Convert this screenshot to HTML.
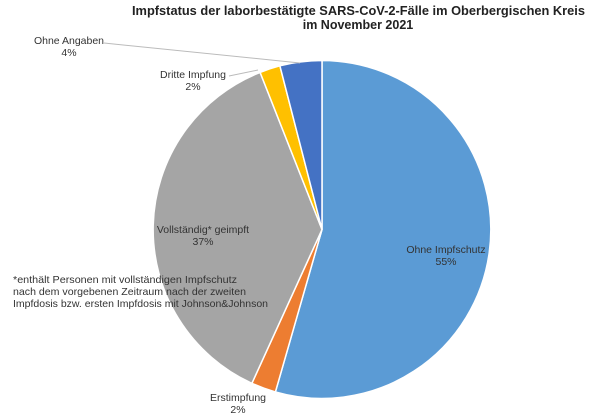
<!DOCTYPE html>
<html><head><meta charset="utf-8"><style>
html,body{margin:0;padding:0;background:#fff;}
svg{display:block;font-family:"Liberation Sans",sans-serif;}
</style></head><body>
<svg width="600" height="420" viewBox="0 0 600 420">
<text x="132" y="15" font-size="12.5" font-weight="bold" fill="#222" textLength="453" lengthAdjust="spacingAndGlyphs">Impfstatus der laborbestätigte SARS-CoV-2-Fälle im Oberbergischen Kreis</text>
<text x="358" y="29" text-anchor="middle" font-size="12.5" font-weight="bold" fill="#222">im November 2021</text>
<g stroke="#fff" stroke-width="1.5">
<path d="M322,229.5 L322,60.5 A169,169 0 1 1 275.4,392 Z" fill="#5B9BD5"/>
<path d="M322,229.5 L275.4,392 A169,169 0 0 1 251.9,383.3 Z" fill="#ED7D31"/>
<path d="M322,229.5 L251.9,383.3 A169,169 0 0 1 260.1,72.4 Z" fill="#A5A5A5"/>
<path d="M322,229.5 L260.1,72.4 A169,169 0 0 1 279.9,65.8 Z" fill="#FFC000"/>
<path d="M322,229.5 L279.9,65.8 A169,169 0 0 1 322,60.5 Z" fill="#4472C4"/>
</g>
<line x1="104" y1="43" x2="300" y2="63" stroke="#bbb" stroke-width="1"/>
<line x1="229" y1="76" x2="258" y2="70" stroke="#bbb" stroke-width="1"/>
<g font-size="10.5" fill="#333" text-anchor="middle">
<text x="69" y="44">Ohne Angaben</text><text x="69" y="56">4%</text>
<text x="193" y="78">Dritte Impfung</text><text x="193" y="90">2%</text>
<text x="203" y="233">Vollständig* geimpft</text><text x="203" y="245">37%</text>
<text x="446" y="253">Ohne Impfschutz</text><text x="446" y="265">55%</text>
<text x="238" y="401">Erstimpfung</text><text x="238" y="413">2%</text>
</g>
<g font-size="10.5" fill="#333">
<text x="13" y="283" textLength="224" lengthAdjust="spacingAndGlyphs">*enthält Personen mit vollständigen Impfschutz</text>
<text x="13" y="295" textLength="233" lengthAdjust="spacingAndGlyphs">nach dem vorgebenen Zeitraum nach der zweiten</text>
<text x="13" y="307" textLength="255" lengthAdjust="spacingAndGlyphs">Impfdosis bzw. ersten Impfdosis mit Johnson&amp;Johnson</text>
</g>
</svg>
</body></html>
